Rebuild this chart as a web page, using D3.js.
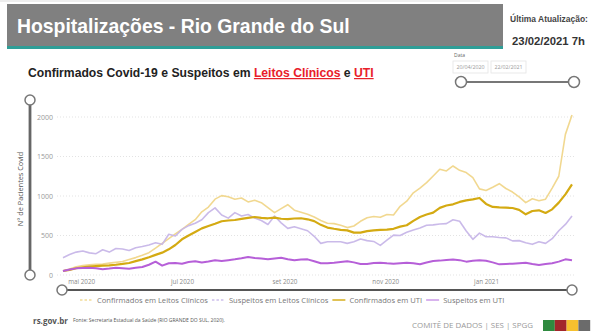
<!DOCTYPE html>
<html><head><meta charset="utf-8">
<script src="https://cdn.jsdelivr.net/npm/d3@7"></script>
<style>html,body{margin:0;padding:0;background:#fff;overflow:hidden}svg{display:block}</style>
</head><body>
<svg id="c" width="600" height="331"></svg>
<script>
const dates = ["2020-04-20","2020-04-24","2020-04-28","2020-05-02","2020-05-06","2020-05-10","2020-05-14","2020-05-18","2020-05-22","2020-05-26","2020-05-30","2020-06-03","2020-06-07","2020-06-11","2020-06-15","2020-06-19","2020-06-23","2020-06-27","2020-07-01","2020-07-05","2020-07-09","2020-07-13","2020-07-17","2020-07-21","2020-07-25","2020-07-29","2020-08-02","2020-08-06","2020-08-10","2020-08-14","2020-08-18","2020-08-22","2020-08-26","2020-08-30","2020-09-03","2020-09-07","2020-09-11","2020-09-15","2020-09-19","2020-09-23","2020-09-27","2020-10-01","2020-10-05","2020-10-09","2020-10-13","2020-10-17","2020-10-21","2020-10-25","2020-10-29","2020-11-02","2020-11-06","2020-11-10","2020-11-14","2020-11-18","2020-11-22","2020-11-26","2020-11-30","2020-12-04","2020-12-08","2020-12-12","2020-12-16","2020-12-20","2020-12-24","2020-12-28","2021-01-01","2021-01-05","2021-01-09","2021-01-13","2021-01-17","2021-01-21","2021-01-25","2021-01-29","2021-02-02","2021-02-06","2021-02-10","2021-02-14","2021-02-18","2021-02-22"];

const confLeitos = [50,75,105,120,128,135,140,150,160,170,195,220,250,283,340,400,460,520,578,640,700,800,860,960,1005,990,958,975,925,945,916,852,789,840,890,820,795,770,735,690,655,650,630,600,620,680,725,740,730,765,760,870,935,1040,1100,1169,1253,1338,1317,1380,1325,1296,1232,1090,1070,1110,1156,1095,1050,990,916,965,940,960,1100,1250,1780,2025];

const suspLeitos = [219,260,290,304,280,270,320,290,335,330,310,345,360,380,409,388,515,494,578,625,655,700,790,850,760,720,790,747,765,720,690,640,747,660,590,610,585,560,490,400,420,420,420,400,420,455,435,425,375,440,505,500,540,570,595,630,635,645,650,700,680,557,452,530,485,485,475,470,432,435,409,388,420,400,460,560,640,747];

const confUTI = [51,65,85,98,105,112,118,122,130,140,152,175,198,225,255,283,325,380,452,500,545,590,620,648,680,690,696,710,722,734,722,718,726,712,708,715,718,705,682,635,600,585,572,565,536,536,555,566,570,575,585,612,630,685,735,765,789,850,880,895,925,945,958,975,900,862,855,852,848,825,768,810,819,785,831,916,1021,1148];

const suspUTI = [51,70,84,88,93,85,74,82,93,86,80,92,101,130,169,118,148,152,143,165,175,158,170,186,178,188,198,212,228,215,208,198,210,219,200,188,195,198,175,148,150,156,165,175,160,140,140,152,155,148,143,150,156,148,135,158,177,182,190,195,188,169,180,186,180,160,135,140,143,150,156,140,127,138,150,169,198,186];

const seriesNames = ["Confirmados em Leitos Clínicos","Suspeitos em Leitos Clínicos","Confirmados em UTI","Suspeitos em UTI"];
const yTicks = [0,500,1000,1500,2000];
const xTickDates = ["2020-05-01","2020-07-01","2020-09-01","2020-11-01","2021-01-01"];
const xTickLabels = ["mai 2020","jul 2020","set 2020","nov 2020","jan 2021"];

const svg = d3.select("#c");
const parse = d3.timeParse("%Y-%m-%d");
const dts = dates.map(parse);

const FONT = "'Liberation Sans', Arial, sans-serif";
const SFONT = "'Open Sans', 'Noto Sans', sans-serif";

// faint top line
svg.append("rect").attr("x",0).attr("y",0).attr("width",480).attr("height",2).attr("fill","#eeeeee");

// header
svg.append("rect").attr("x",7).attr("y",4).attr("width",496).attr("height",42).attr("fill","#808080");
svg.append("rect").attr("x",7).attr("y",46).attr("width",496).attr("height",3).attr("fill","#2f9e97");
function fitText(t, w){ const l=t.node().getComputedTextLength(); const fs=parseFloat(t.attr("font-size")); t.attr("font-size", fs*w/l); }
const title = svg.append("text").attr("x",17).attr("y",33).attr("font-family",FONT).attr("font-weight","bold")
  .attr("font-size",21).attr("fill","#ffffff").text("Hospitalizações - Rio Grande do Sul");
fitText(title, 333);

const upd1 = svg.append("text").attr("x",549).attr("y",22).attr("text-anchor","middle").attr("font-family",FONT).attr("font-weight","bold")
  .attr("font-size",8.5).attr("fill","#444").text("Última Atualização:");
fitText(upd1, 78);
const upd2 = svg.append("text").attr("x",548.5).attr("y",45).attr("text-anchor","middle").attr("font-family",FONT).attr("font-weight","bold")
  .attr("font-size",12).attr("fill","#333").text("23/02/2021 7h");
fitText(upd2, 73);

// subtitle
const sub = svg.append("text").attr("x",28).attr("y",77).attr("font-family",FONT).attr("font-weight","bold").attr("font-size",13).attr("fill","#222");
sub.append("tspan").text("Confirmados Covid-19 e Suspeitos em ");
sub.append("tspan").attr("fill","#e8202a").attr("text-decoration","underline").text("Leitos Clínicos");
sub.append("tspan").text(" e ");
sub.append("tspan").attr("fill","#e8202a").attr("text-decoration","underline").text("UTI");
fitText(sub, 346);

// date slicer
svg.append("text").attr("x",454).attr("y",57).attr("font-family",SFONT).attr("font-size",5).attr("fill","#666").text("Data");
[["20/04/2020",453],["22/02/2021",491]].forEach(([t,x])=>{
  svg.append("rect").attr("x",x).attr("y",61).attr("width",35).attr("height",12).attr("fill","#fff").attr("stroke","#e4e4e4").attr("stroke-width",0.8);
  svg.append("text").attr("x",x+17.5).attr("y",69).attr("text-anchor","middle").attr("font-family",SFONT).attr("font-size",5.3).attr("fill","#999").text(t);
});
svg.append("line").attr("x1",461).attr("x2",574).attr("y1",82).attr("y2",82).attr("stroke","#777").attr("stroke-width",1.8);
[461,574].forEach(x=>svg.append("circle").attr("cx",x).attr("cy",82).attr("r",5.5).attr("fill","#fff").attr("stroke","#777").attr("stroke-width",1.5));

// scales
const x = d3.scaleTime().domain([parse("2020-04-20"), parse("2021-02-22")]).range([63,572]);
const y = d3.scaleLinear().domain([0,2000]).range([275,117]);

// gridlines
svg.append("g").selectAll("line").data(yTicks).join("line")
  .attr("x1",57).attr("x2",576).attr("y1",d=>y(d)).attr("y2",d=>y(d))
  .attr("stroke","#dcdcdc").attr("stroke-width",0.8).attr("stroke-dasharray","1,2");

// y axis via d3.axisLeft
const yAxis = svg.append("g").attr("transform","translate(56,0)")
  .call(d3.axisLeft(y).tickValues(yTicks).tickSize(0).tickPadding(3).tickFormat(d3.format("d")));
yAxis.select(".domain").remove();
yAxis.selectAll("text").attr("font-family",SFONT).attr("font-size",7).attr("fill","#9a9a9a");

// x axis
const xAxis = svg.append("g").attr("transform","translate(0,276)")
  .call(d3.axisBottom(x).tickValues(xTickDates.map(parse)).tickSize(0).tickPadding(4)
  .tickFormat((d,i)=>xTickLabels[i]));
xAxis.select(".domain").remove();
xAxis.selectAll("text").attr("font-family",SFONT).attr("font-size",6.3).attr("fill","#8a8a8a");

// y axis title
svg.append("text").attr("transform","translate(23,189) rotate(-90)").attr("text-anchor","middle")
  .attr("font-family",SFONT).attr("font-size",7.3).attr("fill","#555").text("N° de Pacientes Covid");

// vertical slider
svg.append("line").attr("x1",30).attr("x2",30).attr("y1",100).attr("y2",275).attr("stroke","#666").attr("stroke-width",2.8);
[100,275].forEach(cy=>svg.append("circle").attr("cx",30).attr("cy",cy).attr("r",5).attr("fill","#fff").attr("stroke","#777").attr("stroke-width",1.5));

// horizontal slider
svg.append("line").attr("x1",62).attr("x2",572).attr("y1",290).attr("y2",290).attr("stroke","#555").attr("stroke-width",1.8);
[62,572].forEach(cx=>svg.append("circle").attr("cx",cx).attr("cy",290).attr("r",5).attr("fill","#fff").attr("stroke","#777").attr("stroke-width",1.5));

// lines
const colors = ["#f0d68a","#c7b6e8","#d4aa12","#b65fd8"];
const widths = [1.6,1.6,2.2,2];
const allSeries = [confLeitos, suspLeitos, confUTI, suspUTI];
const line = d3.line().x((d,i)=>x(dts[i])).y(d=>y(d));
allSeries.forEach((s,k)=>{
  svg.append("path").datum(s).attr("d",line).attr("fill","none")
    .attr("stroke",colors[k]).attr("stroke-width",widths[k]).attr("stroke-linejoin","round").attr("opacity", k<2?0.95:1);
});

// legend
const legendColors = ["#f2dc98","#cdbfec","#d9b32a","#cfa0ea"];
const legendDash = [true,true,false,false];
let lx = 80;
const ly = 303;
seriesNames.forEach((n,k)=>{
  svg.append("line").attr("x1",lx).attr("x2",lx+13).attr("y1",ly-3).attr("y2",ly-3)
    .attr("stroke",legendColors[k]).attr("stroke-width",1.6).attr("stroke-dasharray",legendDash[k]?"2.5,2":null);
  const t = svg.append("text").attr("x",lx+17).attr("y",ly).attr("font-family",SFONT).attr("font-size",7.6).attr("fill","#777").text(n);
  lx = lx + 17 + t.node().getComputedTextLength() + 4;
});

// footer
svg.append("text").attr("x",33).attr("y",324).attr("font-family",SFONT).attr("font-weight","bold").attr("font-size",8).attr("fill","#555").text("rs.gov.br");
svg.append("text").attr("x",73).attr("y",322).attr("font-family",SFONT).attr("font-size",5).attr("fill","#555").text("Fonte: Secretaria Estadual da Saúde (RIO GRANDE DO SUL, 2020).");
const com = svg.append("text").attr("x",412).attr("y",328).attr("font-family",SFONT).attr("font-size",7.3).attr("fill","#999").text("COMITÊ DE DADOS | SES | SPGG");
fitText(com, 121);
const blockColors = ["#2f8a3f","#a3262b","#f6c02e","#6b6b6b"];
blockColors.forEach((c,i)=>svg.append("rect").attr("x",543+i*11.8).attr("y",320).attr("width",11.8).attr("height",11).attr("fill",c));
</script>
</body></html>
